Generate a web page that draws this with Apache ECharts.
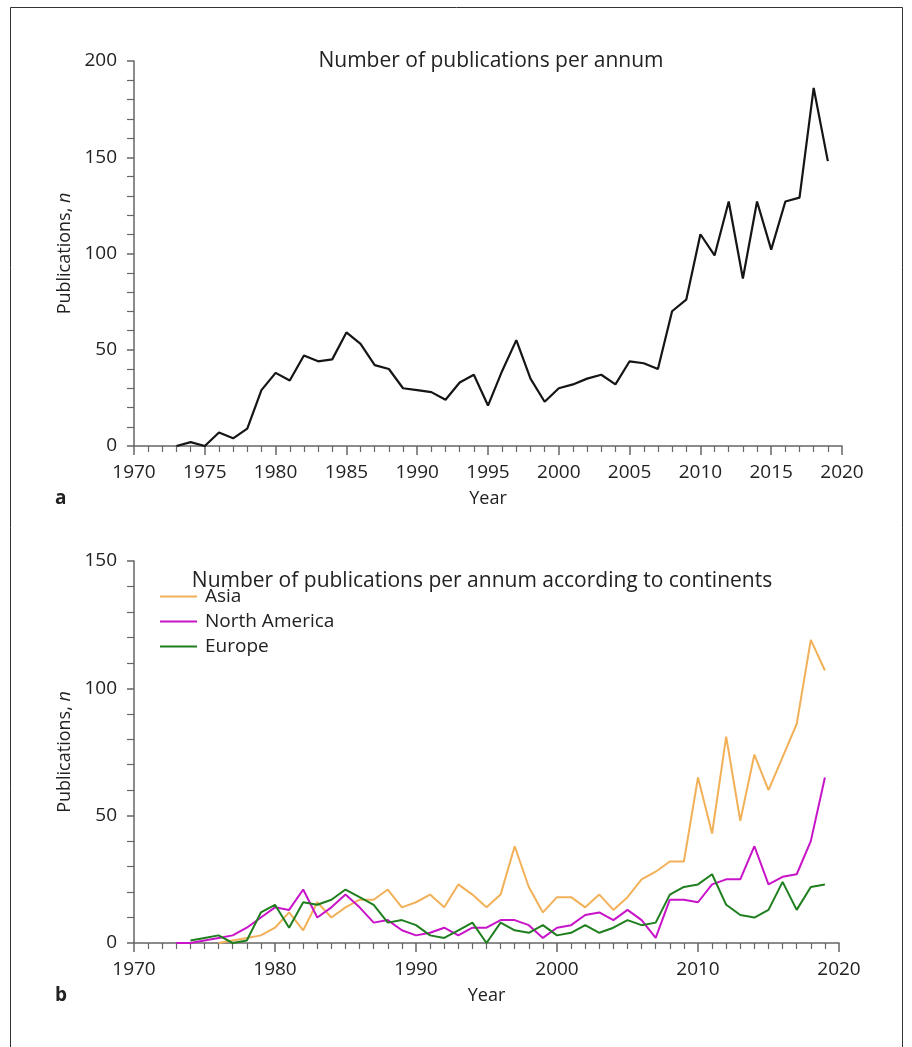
<!DOCTYPE html>
<html>
<head>
<meta charset="utf-8">
<script src="https://cdn.jsdelivr.net/npm/echarts@6/dist/echarts.min.js"></script>
<style>
  html, body { margin: 0; padding: 0; background: #fff; }
  #app { width: 912px; height: 1047px; }
</style>
</head>
<body>
<div id="app"></div>
<script>
// years covered by both panels
const years = [1973, 1974, 1975, 1976, 1977, 1978, 1979, 1980, 1981, 1982, 1983, 1984, 1985, 1986, 1987, 1988,
  1989, 1990, 1991, 1992, 1993, 1994, 1995, 1996, 1997, 1998, 1999, 2000, 2001, 2002, 2003, 2004, 2005, 2006,
  2007, 2008, 2009, 2010, 2011, 2012, 2013, 2014, 2015, 2016, 2017, 2018, 2019]

// panel a: all publications
const totalPubs = [0, 2, 0, 7, 4, 9, 29, 38, 34, 47, 44, 45, 59, 53, 42, 40,
  30, 29, 28, 24, 33, 37, 21, 39, 55, 35, 23, 30, 32, 35, 37, 32, 44, 43,
  40, 70, 76, 110, 99, 127, 87, 127, 102, 127, 129, 186, 148]

// panel b: by continent (null = no data yet)
const asiaPubs = [null, null, null, 0, 1, 2, 3, 6, 12, 5, 16, 10, 14, 17, 17, 21,
  14, 16, 19, 14, 23, 19, 14, 19, 38, 22, 12, 18, 18, 14, 19, 13, 18, 25,
  28, 32, 32, 65, 43, 81, 48, 74, 60, 73, 86, 119, 107]
const northAmericaPubs = [0, 0, 1, 2, 3, 6, 10, 14, 13, 21, 10, 14, 19, 14, 8, 9,
  5, 3, 4, 6, 3, 6, 6, 9, 9, 7, 2, 6, 7, 11, 12, 9, 13, 9,
  2, 17, 17, 16, 23, 25, 25, 38, 23, 26, 27, 40, 65]
const europePubs = [null, 1, 2, 3, 0, 1, 12, 15, 6, 16, 15, 17, 21, 18, 15, 8,
  9, 7, 3, 2, 5, 8, 0, 8, 5, 4, 7, 3, 4, 7, 4, 6, 9, 7,
  8, 19, 22, 23, 27, 15, 11, 10, 13, 24, 13, 22, 23]

const FONT = '"Open Sans", "Noto Sans", sans-serif'
const axisGrey = '#666'

function pairs(vals) {
  return years.map((y, i) => [y, vals[i]])
}

function xAxisFor(gridIndex, interval) {
  return {
    type: 'value', gridIndex: gridIndex, min: 1970, max: 2020, interval: interval,
    name: 'Year', nameLocation: 'middle', nameGap: 44,
    nameTextStyle: { fontFamily: FONT, fontSize: 18, color: '#222' },
    axisLine: { lineStyle: { color: axisGrey, width: 1.5 } },
    axisTick: { length: 9, lineStyle: { color: axisGrey, width: 1.5 } },
    minorTick: { show: true, splitNumber: interval, length: 6, lineStyle: { color: axisGrey, width: 1.2 } },
    axisLabel: { fontFamily: FONT, fontSize: 19, color: '#222', margin: 17,
      formatter: v => String(v) },
    splitLine: { show: false }
  }
}

function yAxisFor(gridIndex, max) {
  return {
    type: 'value', gridIndex: gridIndex, min: 0, max: max, interval: 50,
    name: '{t|Publications, }{i|n}', nameLocation: 'middle', nameGap: 59, nameRotate: 90,
    nameTextStyle: {
      rich: {
        t: { fontFamily: FONT, fontSize: 18, color: '#222' },
        i: { fontFamily: FONT, fontSize: 18, color: '#222', fontStyle: 'italic' }
      }
    },
    axisLine: { show: true, lineStyle: { color: axisGrey, width: 1.5 } },
    axisTick: { show: true, length: 7, lineStyle: { color: axisGrey, width: 1.5 } },
    minorTick: { show: true, splitNumber: 5, length: 7, lineStyle: { color: axisGrey, width: 1.2 } },
    axisLabel: { fontFamily: FONT, fontSize: 19, color: '#222', margin: 17 },
    splitLine: { show: false }
  }
}

const myChart = echarts.init(document.getElementById('app'), null, { renderer: 'canvas' })

myChart.setOption({
  animation: false,
  backgroundColor: '#fff',
  title: [
    { text: 'Number of publications per annum', left: 486, top: 46, textAlign: 'center',
      textStyle: { fontFamily: FONT, fontSize: 21, fontWeight: 'normal', color: '#222' } },
    { text: 'Number of publications per annum according to continents', left: 477, top: 566, textAlign: 'center',
      textStyle: { fontFamily: FONT, fontSize: 21, fontWeight: 'normal', color: '#222' } }
  ],
  legend: {
    orient: 'vertical', left: 160, top: 587, itemGap: 6, padding: 0,
    itemWidth: 37, itemHeight: 2, icon: 'rect',
    data: ['Asia', 'North America', 'Europe'],
    textStyle: { fontFamily: FONT, fontSize: 19, color: '#222', padding: [0, 0, 0, 3] }
  },
  grid: [
    { left: 134, top: 61, width: 708, height: 385 },
    { left: 134, top: 561, width: 705, height: 382 }
  ],
  xAxis: [xAxisFor(0, 5), xAxisFor(1, 10)],
  yAxis: [yAxisFor(0, 200), yAxisFor(1, 150)],
  graphic: [
    { type: 'rect', shape: { x: 10.5, y: 7.5, width: 892, height: 1060 },
      style: { fill: 'none', stroke: '#333', lineWidth: 1 }, silent: true },
    { type: 'text', left: 55, top: 489, style: { text: 'a', font: 'bold 19px ' + FONT, fill: '#222' } },
    { type: 'text', left: 55, top: 986, style: { text: 'b', font: 'bold 19px ' + FONT, fill: '#222' } }
  ],
  series: [
    { name: 'Total', type: 'line', xAxisIndex: 0, yAxisIndex: 0, data: pairs(totalPubs),
      showSymbol: false, lineStyle: { color: '#151515', width: 2.2 } },
    { name: 'Asia', type: 'line', xAxisIndex: 1, yAxisIndex: 1, data: pairs(asiaPubs),
      showSymbol: false, itemStyle: { color: '#f2b158' }, lineStyle: { color: '#f2b158', width: 2 } },
    { name: 'North America', type: 'line', xAxisIndex: 1, yAxisIndex: 1, data: pairs(northAmericaPubs),
      showSymbol: false, itemStyle: { color: '#c814c8' }, lineStyle: { color: '#c814c8', width: 2 } },
    { name: 'Europe', type: 'line', xAxisIndex: 1, yAxisIndex: 1, data: pairs(europePubs),
      showSymbol: false, itemStyle: { color: '#1f7f1f' }, lineStyle: { color: '#1f7f1f', width: 2 } }
  ]
})
</script>
</body>
</html>
